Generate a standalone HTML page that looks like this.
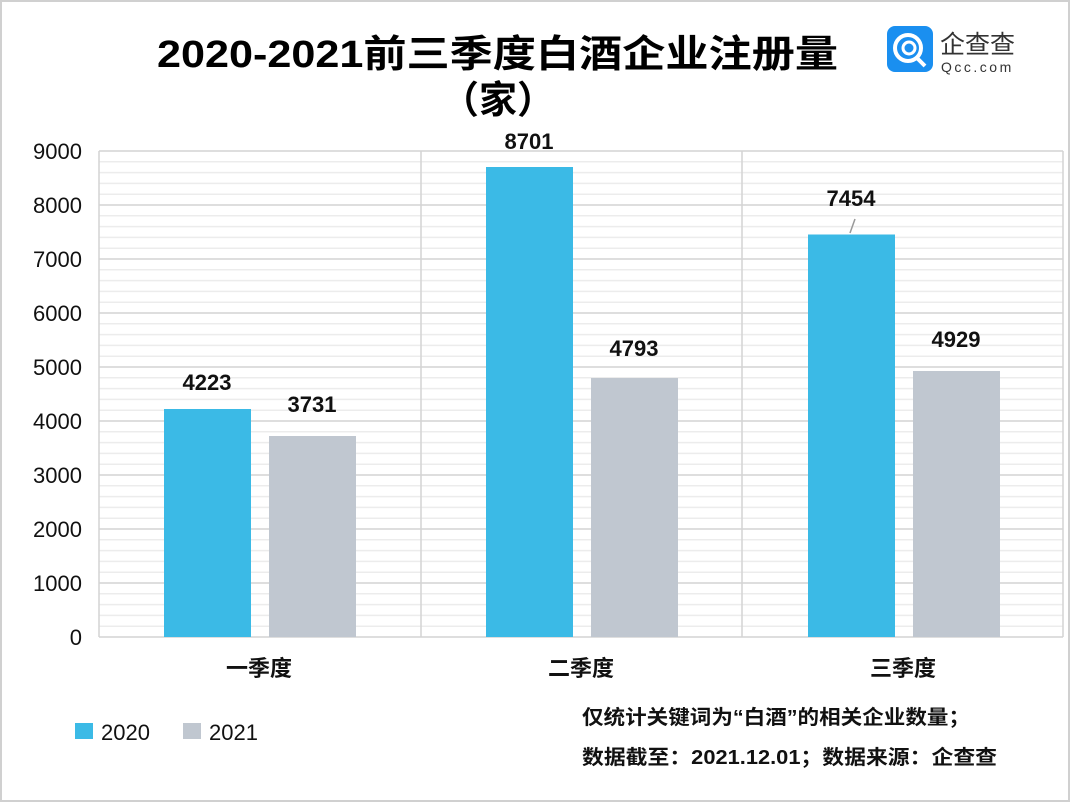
<!DOCTYPE html>
<html><head><meta charset="utf-8"><style>
body{margin:0;background:#fff}
svg{display:block;font-family:"Liberation Sans","Noto Sans CJK SC",sans-serif}
</style></head><body>
<svg width="1071" height="803" viewBox="0 0 1071 803" xmlns="http://www.w3.org/2000/svg">
<rect x="1" y="1" width="1068" height="800" fill="#fff" stroke="#d0d0d0" stroke-width="2"/>
<g stroke="#ececec" stroke-width="1.5">
<line x1="99" x2="1063" y1="161.8" y2="161.8"/><line x1="99" x2="1063" y1="172.6" y2="172.6"/><line x1="99" x2="1063" y1="183.4" y2="183.4"/><line x1="99" x2="1063" y1="194.2" y2="194.2"/>
<line x1="99" x2="1063" y1="215.8" y2="215.8"/><line x1="99" x2="1063" y1="226.6" y2="226.6"/><line x1="99" x2="1063" y1="237.4" y2="237.4"/><line x1="99" x2="1063" y1="248.2" y2="248.2"/>
<line x1="99" x2="1063" y1="269.8" y2="269.8"/><line x1="99" x2="1063" y1="280.6" y2="280.6"/><line x1="99" x2="1063" y1="291.4" y2="291.4"/><line x1="99" x2="1063" y1="302.2" y2="302.2"/>
<line x1="99" x2="1063" y1="323.8" y2="323.8"/><line x1="99" x2="1063" y1="334.6" y2="334.6"/><line x1="99" x2="1063" y1="345.4" y2="345.4"/><line x1="99" x2="1063" y1="356.2" y2="356.2"/>
<line x1="99" x2="1063" y1="377.8" y2="377.8"/><line x1="99" x2="1063" y1="388.6" y2="388.6"/><line x1="99" x2="1063" y1="399.4" y2="399.4"/><line x1="99" x2="1063" y1="410.2" y2="410.2"/>
<line x1="99" x2="1063" y1="431.8" y2="431.8"/><line x1="99" x2="1063" y1="442.6" y2="442.6"/><line x1="99" x2="1063" y1="453.4" y2="453.4"/><line x1="99" x2="1063" y1="464.2" y2="464.2"/>
<line x1="99" x2="1063" y1="485.8" y2="485.8"/><line x1="99" x2="1063" y1="496.6" y2="496.6"/><line x1="99" x2="1063" y1="507.4" y2="507.4"/><line x1="99" x2="1063" y1="518.2" y2="518.2"/>
<line x1="99" x2="1063" y1="539.8" y2="539.8"/><line x1="99" x2="1063" y1="550.6" y2="550.6"/><line x1="99" x2="1063" y1="561.4" y2="561.4"/><line x1="99" x2="1063" y1="572.2" y2="572.2"/>
<line x1="99" x2="1063" y1="593.8" y2="593.8"/><line x1="99" x2="1063" y1="604.6" y2="604.6"/><line x1="99" x2="1063" y1="615.4" y2="615.4"/><line x1="99" x2="1063" y1="626.2" y2="626.2"/>
</g>
<g stroke="#d4d4d4" stroke-width="1.5">
<line x1="99" x2="1063" y1="151" y2="151"/><line x1="99" x2="1063" y1="205" y2="205"/><line x1="99" x2="1063" y1="259" y2="259"/><line x1="99" x2="1063" y1="313" y2="313"/><line x1="99" x2="1063" y1="367" y2="367"/><line x1="99" x2="1063" y1="421" y2="421"/><line x1="99" x2="1063" y1="475" y2="475"/><line x1="99" x2="1063" y1="529" y2="529"/><line x1="99" x2="1063" y1="583" y2="583"/><line x1="99" x2="1063" y1="637" y2="637"/>
<line x1="99" x2="99" y1="151" y2="637"/><line x1="421" x2="421" y1="151" y2="637"/><line x1="742" x2="742" y1="151" y2="637"/><line x1="1063" x2="1063" y1="151" y2="637"/>
</g>
<g fill="#3bbae6">
<rect x="164" y="409" width="87" height="228"/><rect x="486" y="167" width="87" height="470"/><rect x="808" y="234.5" width="87" height="402.5"/>
</g>
<g fill="#c0c7d0">
<rect x="269" y="436" width="87" height="201"/><rect x="591" y="378" width="87" height="259"/><rect x="913" y="371" width="87" height="266"/>
</g>
<line x1="850" y1="233" x2="855" y2="219" stroke="#999" stroke-width="1.5"/>
<g font-size="22" text-anchor="middle" fill="#111" font-weight="bold">
<text x="207" y="390">4223</text><text x="312" y="412">3731</text>
<text x="529" y="149">8701</text><text x="634" y="356">4793</text>
<text x="851" y="206">7454</text><text x="956" y="347">4929</text>
</g>
<g font-size="22" text-anchor="end" fill="#111">
<text x="82" y="159">9000</text><text x="82" y="213">8000</text><text x="82" y="267">7000</text><text x="82" y="321">6000</text><text x="82" y="375">5000</text><text x="82" y="429">4000</text><text x="82" y="483">3000</text><text x="82" y="537">2000</text><text x="82" y="591">1000</text><text x="82" y="645">0</text>
</g>
<g font-size="22" text-anchor="middle" fill="#111" font-weight="bold">
<text x="259" y="676">一季度</text><text x="581" y="676">二季度</text><text x="903" y="676">三季度</text>
</g>
<text x="157" y="67" font-size="38" font-weight="bold" fill="#000" textLength="681" lengthAdjust="spacingAndGlyphs">2020-2021前三季度白酒企业注册量</text>
<text x="498" y="113" font-size="38" font-weight="bold" text-anchor="middle" fill="#000">（家）</text>
<rect x="887" y="26" width="46" height="46" rx="8" fill="#1a8ff0"/>
<circle cx="908" cy="48" r="13" fill="none" stroke="#fff" stroke-width="4"/>
<circle cx="909" cy="48" r="6" fill="none" stroke="#fff" stroke-width="3"/>
<line x1="917" y1="58" x2="925" y2="66" stroke="#fff" stroke-width="4"/>
<text x="940" y="53" font-size="25" fill="#333">企查查</text>
<text x="941" y="72" font-size="14" fill="#333" letter-spacing="2.5">Qcc.com</text>
<rect x="75" y="723" width="18" height="16" fill="#3bbae6"/>
<text x="101" y="740" font-size="22" fill="#111">2020</text>
<rect x="183" y="723" width="18" height="16" fill="#c0c7d0"/>
<text x="209" y="740" font-size="22" fill="#111">2021</text>
<text x="582" y="724" font-size="20" fill="#111" font-weight="bold" textLength="388" lengthAdjust="spacingAndGlyphs">仅统计关键词为“白酒”的相关企业数量；</text>
<text x="582" y="764" font-size="20" fill="#111" font-weight="bold" textLength="415" lengthAdjust="spacingAndGlyphs">数据截至：2021.12.01；数据来源：企查查</text>
</svg>
</body></html>
